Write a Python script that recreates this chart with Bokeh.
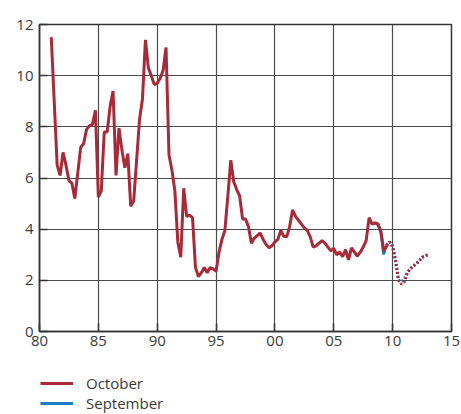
from bokeh.plotting import figure
from bokeh.models import Range1d, FixedTicker, Legend, LegendItem
from bokeh.layouts import column
from bokeh.embed import file_html
from bokeh.resources import INLINE

# October projection: history (solid) and forecast (dotted)
oct_hist_x = [1981.0, 1981.5, 1981.75, 1982.0, 1982.25, 1982.5, 1982.75, 1983.0, 1983.5, 1983.75,
              1984.0, 1984.25, 1984.5, 1984.75, 1985.0, 1985.25, 1985.5, 1985.75, 1986.0, 1986.25,
              1986.5, 1986.75, 1987.0, 1987.25, 1987.5, 1987.75, 1988.0, 1988.5, 1988.75, 1989.0,
              1989.25, 1989.5, 1989.75, 1990.0, 1990.25, 1990.5, 1990.75, 1991.0, 1991.25, 1991.5,
              1991.75, 1992.0, 1992.25, 1992.5, 1992.75, 1993.0, 1993.25, 1993.5, 1993.75, 1994.0,
              1994.25, 1994.5, 1994.75, 1995.0, 1995.25, 1995.5, 1995.75, 1996.0, 1996.25, 1996.5,
              1996.75, 1997.0, 1997.25, 1997.5, 1997.75, 1998.0, 1998.25, 1998.5, 1998.75, 1999.0,
              1999.25, 1999.5, 1999.75, 2000.0, 2000.25, 2000.5, 2000.75, 2001.0, 2001.25, 2001.5,
              2001.75, 2002.0, 2002.25, 2002.5, 2002.75, 2003.0, 2003.25, 2003.5, 2003.75, 2004.0,
              2004.25, 2004.5, 2004.75, 2005.0, 2005.25, 2005.5, 2005.75, 2006.0, 2006.25, 2006.5,
              2006.75, 2007.0, 2007.25, 2007.5, 2007.75, 2008.0, 2008.25, 2008.5, 2008.75, 2009.0,
              2009.25, 2009.5]
oct_hist_y = [11.5, 6.5, 6.1, 7.0, 6.5, 5.9, 5.8, 5.2, 7.2, 7.35,
              7.9, 8.05, 8.1, 8.65, 5.25, 5.5, 7.8, 7.8, 8.8, 9.4,
              6.1, 7.95, 7.1, 6.4, 6.95, 4.9, 5.1, 8.3, 9.1, 11.4,
              10.3, 10.0, 9.65, 9.7, 9.9, 10.2, 11.1, 6.9, 6.3, 5.5,
              3.5, 2.9, 5.6, 4.5, 4.55, 4.45, 2.5, 2.15, 2.3, 2.5,
              2.3, 2.5, 2.45, 2.35, 3.1, 3.6, 3.95, 5.3, 6.7, 5.85,
              5.55, 5.3, 4.4, 4.4, 4.1, 3.45, 3.65, 3.75, 3.85, 3.6,
              3.4, 3.27, 3.35, 3.5, 3.6, 3.95, 3.72, 3.7, 4.1, 4.75,
              4.5, 4.35, 4.2, 4.05, 3.95, 3.7, 3.3, 3.35, 3.45, 3.55,
              3.45, 3.3, 3.15, 3.25, 3.0, 3.1, 2.93, 3.2, 2.8, 3.27,
              3.1, 2.95, 3.1, 3.3, 3.55, 4.45, 4.2, 4.25, 4.2, 3.9,
              3.15, 3.35]
oct_fc_x = [2009.5, 2009.75, 2010.0, 2010.25, 2010.5, 2010.75, 2011.0, 2011.25, 2011.5,
            2011.75, 2012.0, 2012.25, 2012.5, 2012.75, 2013.0]
oct_fc_y = [3.35, 3.5, 3.3, 2.8, 2.0, 1.85, 1.95, 2.3, 2.45,
            2.55, 2.65, 2.75, 2.9, 2.95, 3.0]

# September projection: last history points and forecast
sep_hist_x = [2008.5, 2008.75, 2009.0, 2009.25]
sep_hist_y = [4.25, 4.2, 3.9, 3.0]
sep_fc_x = [2009.25, 2009.5, 2009.75, 2010.0, 2010.25, 2010.5, 2010.75, 2011.0, 2011.25, 2011.5,
            2011.75, 2012.0, 2012.25, 2012.5, 2012.75, 2013.0]
sep_fc_y = [3.0, 3.4, 3.5, 3.35, 2.75, 2.0, 1.95, 2.05, 2.3, 2.45,
            2.55, 2.65, 2.75, 2.9, 2.95, 3.0]

series_names = ["October", "September"]
x_ticks = [1980, 1985, 1990, 1995, 2000, 2005, 2010, 2015]
x_tick_labels = ["80", "85", "90", "95", "00", "05", "10", "15"]
y_ticks = [0, 2, 4, 6, 8, 10, 12]

RED = "#a62a38"
BLUE = "#1f7dc2"
DARK = "#3a3a3a"
FONT = "Open Sans"

p = figure(width=461, height=372, x_range=Range1d(1980, 2015), y_range=Range1d(0, 12),
           output_backend="svg", toolbar_location=None,
           min_border_left=39, min_border_right=10, min_border_top=24, min_border_bottom=41)

p.xaxis.ticker = FixedTicker(ticks=x_ticks)
p.xaxis.major_label_overrides = {t: l for t, l in zip(x_ticks, x_tick_labels)}
p.yaxis.ticker = FixedTicker(ticks=y_ticks)

for ax in (p.xaxis[0], p.yaxis[0]):
    ax.major_label_text_font = FONT
    ax.major_label_text_font_size = "15px"
    ax.major_label_text_color = DARK
    ax.axis_line_color = "#333333"
    ax.axis_line_width = 1.5
    ax.major_tick_in = 8
    ax.major_tick_out = 0
    ax.major_tick_line_color = "#333333"
    ax.major_tick_line_width = 1.5
    ax.minor_tick_line_color = None
p.yaxis.major_label_standoff = 6
p.xaxis.major_label_standoff = 4

p.xgrid.grid_line_color = "#4a4a4a"
p.ygrid.grid_line_color = "#4a4a4a"
p.xgrid.grid_line_width = 1.2
p.ygrid.grid_line_width = 1.2
p.outline_line_color = "#333333"
p.outline_line_width = 1.5
p.outline_line_alpha = 1.0
p.background_fill_color = "white"
p.border_fill_color = "white"

p.line(sep_hist_x, sep_hist_y, line_color=BLUE, line_width=3)
p.line(sep_fc_x, sep_fc_y, line_color=BLUE, line_width=3, line_dash="2 2", line_dash_offset=2)
p.line(oct_hist_x, oct_hist_y, line_color=RED, line_width=3)
p.line(oct_fc_x, oct_fc_y, line_color=RED, line_width=3, line_dash="2 2")

# legend panel below the chart (series lines lie outside its view; only the legend shows)
pl = figure(width=461, height=42, x_range=Range1d(0, 1), y_range=Range1d(0, 1),
            x_axis_type=None, y_axis_type=None, output_backend="svg", toolbar_location=None,
            min_border=0)
pl.grid.visible = False
pl.outline_line_color = None
pl.background_fill_color = "white"
pl.border_fill_color = "white"
l_oct = pl.line(oct_hist_x, oct_hist_y, line_color=RED, line_width=3)
l_sep = pl.line(sep_hist_x, sep_hist_y, line_color=BLUE, line_width=3)

legend = Legend(items=[LegendItem(label=series_names[0], renderers=[l_oct]),
                       LegendItem(label=series_names[1], renderers=[l_sep])],
                location=(1, 1), orientation="vertical",
                glyph_width=33, glyph_height=20, label_height=20, label_standoff=13,
                spacing=0, padding=0, margin=0,
                label_text_font=FONT, label_text_font_size="15px", label_text_color=DARK,
                background_fill_alpha=0, border_line_alpha=0)
pl.add_layout(legend, "center")

layout = column(p, pl, spacing=0)
open("out.html", "w").write(file_html(layout, INLINE))
